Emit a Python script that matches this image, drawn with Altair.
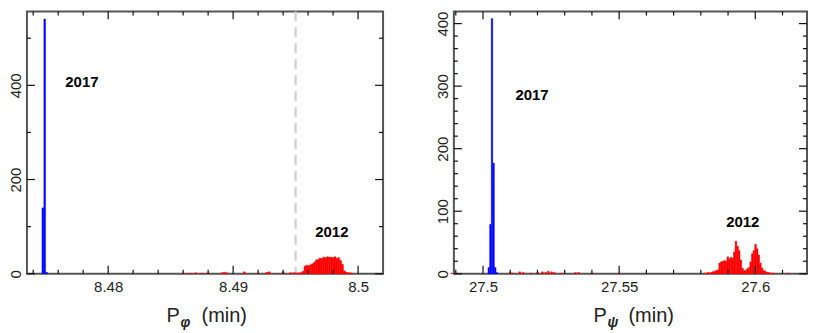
import altair as alt
import pandas as pd

FONT = "Liberation Sans"

# ---------------- left panel: P_phi ----------------
phi_bin = 0.00015
phi_blue_center = [8.47477, 8.47492, 8.47507]
phi_blue_count = [140, 541, 3]
phi_red_center = [8.4860, 8.4866, 8.4870, 8.4875, 8.4880, 8.4891, 8.4893, 8.4895,
                  8.4909, 8.4920, 8.4927, 8.4929, 8.4940, 8.4946,
                  8.49485, 8.49500, 8.49515, 8.49530, 8.49545, 8.49560, 8.49575,
                  8.49590, 8.49605, 8.49620, 8.49635, 8.49650, 8.49665, 8.49680,
                  8.49695, 8.49710, 8.49725, 8.49740, 8.49755, 8.49770, 8.49785,
                  8.49800, 8.49815, 8.49830, 8.49845, 8.49860, 8.49875, 8.49890,
                  8.49905, 8.49920, 8.49935, 8.49950]
phi_red_count = [1, 1, 2, 1, 2, 2, 3, 2,
                 4, 1, 3, 4, 4, 2,
                 2, 2, 1, 2, 2, 5, 16,
                 18, 17, 19, 21, 24, 29, 30,
                 33, 32, 35, 34, 36, 35, 35,
                 34, 36, 33, 34, 28, 20, 6,
                 3, 2, 2, 1]
phi_xdomain = [8.4735, 8.502]
phi_ydomain = [0, 557]
phi_x_major = [8.48, 8.49, 8.5]
phi_x_minor = [8.474, 8.476, 8.478, 8.482, 8.484, 8.486, 8.488, 8.492, 8.494,
               8.496, 8.498]
phi_y_major = [0, 200, 400]
phi_y_minor = [100, 300, 500]
phi_ann_x = [8.4779, 8.4979]
phi_ann_y = [407, 88]
phi_ann_t = ["2017", "2012"]
phi_vline = [8.495]

# ---------------- right panel: P_psi ----------------
psi_bin = 0.0006
psi_blue_center = [27.5021, 27.5027, 27.5033, 27.5039, 27.5045, 27.5051]
psi_blue_count = [10, 79, 408, 177, 10, 2]
psi_red_center = [27.4885, 27.4905, 27.5100, 27.5108, 27.5135, 27.5148, 27.5175,
                  27.5200, 27.5218, 27.5230, 27.5240, 27.5252, 27.5262, 27.5290,
                  27.5340, 27.5352, 27.5400, 27.5500,
                  27.5815, 27.5821, 27.5827, 27.5833, 27.5839, 27.5845, 27.5851,
                  27.5857, 27.5863, 27.5869, 27.5875, 27.5881, 27.5887, 27.5893,
                  27.5899, 27.5905, 27.5911, 27.5917, 27.5923, 27.5929, 27.5935,
                  27.5941, 27.5947, 27.5953, 27.5959, 27.5965, 27.5971, 27.5977,
                  27.5983, 27.5989, 27.5995, 27.6001, 27.6007, 27.6013, 27.6019,
                  27.6025, 27.6031, 27.6037, 27.6043, 27.6049, 27.6055, 27.6061,
                  27.6067, 27.6120]
psi_red_count = [1, 1, 2, 1, 3, 2, 1,
                 2, 3, 2, 4, 3, 2, 1,
                 2, 2, 1, 1,
                 1, 1, 2, 1, 2, 3, 4,
                 5, 6, 17, 19, 20, 21, 20,
                 27, 24, 26, 25, 35, 52, 44,
                 37, 22, 9, 5, 5, 8, 10,
                 19, 32, 37, 47, 40, 30, 17,
                 9, 5, 4, 2, 2, 1, 1,
                 1, 1]
psi_xdomain = [27.4893, 27.619]
psi_ydomain = [0, 419.5]
psi_x_major = [27.5, 27.55, 27.6]
psi_x_minor = [27.49, 27.51, 27.52, 27.53, 27.54, 27.56, 27.57, 27.58, 27.59, 27.61]
psi_y_major = [0, 100, 200, 300, 400]
psi_y_minor = [20, 40, 60, 80, 120, 140, 160, 180, 220, 240, 260, 280, 320, 340,
               360, 380]
psi_ann_x = [27.518, 27.5954]
psi_ann_y = [286, 82]
psi_ann_t = ["2017", "2012"]

H = 263
MAJ, MIN = 8, 4


def hist_df(centers, counts, bw):
    return pd.DataFrame({
        "x0": [c - bw / 2 for c in centers],
        "x1": [c + bw / 2 for c in centers],
        "n": counts,
    })


def panel(W, bw, blue_c, blue_n, red_c, red_n, xdom, ydom, xmaj, xmin, ymaj, ymin,
          ann_x, ann_y, ann_t, sub, vline=None):
    xs = alt.Scale(domain=xdom, nice=False, zero=False)
    ys = alt.Scale(domain=ydom, nice=False, zero=False)
    xax = alt.Axis(values=xmaj, labelExpr="'' + datum.value", title=None,
                   labelPadding=6, labelFontSize=15)
    yax = alt.Axis(values=ymaj, labelAngle=270, labelAlign="center",
                   labelBaseline="bottom", title=None, labelPadding=3, labelFontSize=15)

    def X(f):
        return alt.X(f, scale=xs, axis=xax, title=None)

    def Y(f):
        return alt.Y(f, scale=ys, axis=yax, title=None)

    red = alt.Chart(hist_df(red_c, red_n, bw)).mark_bar(
        color="#ff0000", stroke="#ff0000", strokeWidth=0.5).encode(
        x=X("x0:Q"), x2="x1:Q", y=Y("n:Q"), y2=alt.datum(0))
    blue = alt.Chart(hist_df(blue_c, blue_n, bw)).mark_bar(
        color="#0000ff", stroke="#0000ff", strokeWidth=0.3).encode(
        x=X("x0:Q"), x2="x1:Q", y=Y("n:Q"), y2=alt.datum(0))
    layers = [red, blue]
    if vline is not None:
        layers.insert(0,
            alt.Chart(pd.DataFrame({"v": vline})).mark_rule(
                color="#cfcfcf", strokeWidth=2.2, strokeDash=[10, 6]).encode(
                x=X("v:Q"), y=alt.value(0), y2=alt.value(H))
        )

    def xt(vals, L):
        d = pd.DataFrame({"v": vals})
        b = alt.Chart(d).mark_rule(color="#111", strokeWidth=1.2).encode(
            x=X("v:Q"), y=alt.value(H), y2=alt.value(H - L))
        t = alt.Chart(d).mark_rule(color="#111", strokeWidth=1.2).encode(
            x=X("v:Q"), y=alt.value(0), y2=alt.value(L))
        return [b, t]

    def yt(vals, L):
        d = pd.DataFrame({"v": vals})
        l = alt.Chart(d).mark_rule(color="#111", strokeWidth=1.2).encode(
            y=Y("v:Q"), x=alt.value(0), x2=alt.value(L))
        r = alt.Chart(d).mark_rule(color="#111", strokeWidth=1.2).encode(
            y=Y("v:Q"), x=alt.value(W), x2=alt.value(W - L))
        return [l, r]

    layers += xt(xmaj, MAJ) + xt(xmin, MIN) + yt(ymaj, MAJ) + yt(ymin, MIN)

    ann = alt.Chart(pd.DataFrame({"x": ann_x, "y": ann_y, "t": ann_t})).mark_text(
        font=FONT, fontSize=15, fontWeight="bold", color="#000").encode(
        x=X("x:Q"), y=Y("y:Q"), text="t:N")
    layers.append(ann)

    # axis title built from text pieces (P with subscript Greek letter)
    cx = 140
    tP = alt.Chart(pd.DataFrame({"t": ["P"]})).mark_text(
        font=FONT, fontSize=20, align="left", baseline="alphabetic", color="#222").encode(
        x=alt.value(cx), y=alt.value(H + 48), text="t:N")
    tS = alt.Chart(pd.DataFrame({"t": [sub]})).mark_text(
        font=FONT, fontSize=14, fontStyle="italic", fontWeight="bold", align="left",
        baseline="alphabetic", color="#222").encode(
        x=alt.value(cx + 14), y=alt.value(H + 53), text="t:N")
    tM = alt.Chart(pd.DataFrame({"t": ["(min)"]})).mark_text(
        font=FONT, fontSize=20, align="left", baseline="alphabetic", color="#222").encode(
        x=alt.value(cx + 35), y=alt.value(H + 48), text="t:N")
    layers += [tP, tS, tM]

    return alt.layer(*layers).properties(width=W, height=H)


left = panel(357, phi_bin, phi_blue_center, phi_blue_count, phi_red_center, phi_red_count,
             phi_xdomain, phi_ydomain, phi_x_major, phi_x_minor, phi_y_major, phi_y_minor,
             phi_ann_x, phi_ann_y, phi_ann_t, "φ", vline=phi_vline)
right = panel(354, psi_bin, psi_blue_center, psi_blue_count, psi_red_center, psi_red_count,
              psi_xdomain, psi_ydomain, psi_x_major, psi_x_minor, psi_y_major, psi_y_minor,
              psi_ann_x, psi_ann_y, psi_ann_t, "ψ")

chart = alt.hconcat(left, right, spacing=50).properties(
    padding={"left": 0, "top": 0, "right": 0, "bottom": 0}
).configure_view(
    stroke="#555", strokeWidth=2
).configure_axis(
    labelFont=FONT, labelColor="#222", ticks=False, domain=False, grid=False
)

chart.save("out.html", embed_options={"renderer": "svg", "actions": False})
